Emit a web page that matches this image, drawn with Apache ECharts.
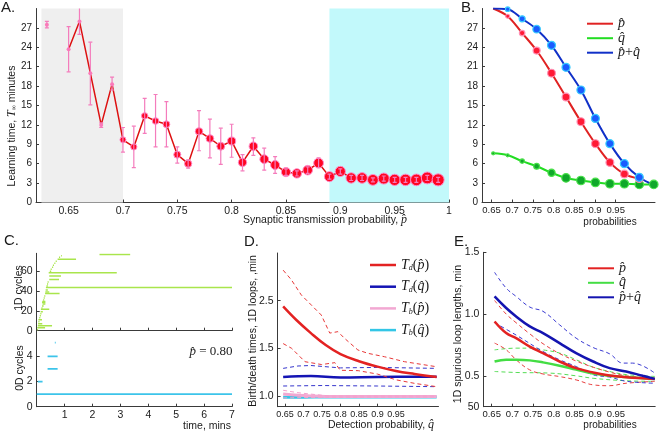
<!DOCTYPE html>
<html><head><meta charset="utf-8">
<script src="https://cdn.jsdelivr.net/npm/echarts@6/dist/echarts.min.js"></script>
<style>html,body{margin:0;padding:0;background:#fff}#c{width:660px;height:432px}</style>
</head><body><div id="c"></div>
<script>
// ---------- Panel A : learning time vs synaptic transmission probability ----------
const aX  = [0.63,0.64,0.65,0.66,0.67,0.68,0.69,0.70,0.71,0.72,0.73,0.74,0.75,0.76,0.77,0.78,0.79,0.80,0.81,0.82,0.83,0.84,0.85,0.86,0.87,0.88,0.89,0.90,0.91,0.92,0.93,0.94,0.95,0.96,0.97,0.98,0.99];
const aY  = [27.5,null,23.7,28.0,20.0,12.0,18.3,9.7,8.6,13.4,12.6,12.1,7.4,6.0,11.0,9.9,8.7,9.5,6.2,8.7,6.7,5.8,4.7,4.5,5.0,6.1,4.0,4.8,3.8,3.8,3.5,3.7,3.5,3.5,3.5,3.8,3.5];
const aLo = [27.0,null,20.2,26.0,15.1,11.6,17.4,7.8,5.4,10.7,8.6,8.6,6.1,5.3,8.0,6.9,5.9,7.0,4.9,7.3,5.0,4.5,4.2,4.1,4.5,5.4,3.6,4.4,3.4,3.4,3.2,3.3,3.1,3.1,3.1,3.4,3.1];
const aHi = [28.0,null,27.2,30.5,24.8,12.3,19.4,11.6,11.8,16.1,16.7,15.6,8.6,6.6,14.2,12.9,11.5,12.1,7.4,10.0,8.4,7.1,5.2,4.9,5.5,6.9,4.4,5.2,4.2,4.2,3.8,4.1,3.9,3.9,3.9,4.2,3.9];
const aGray = [0.625, 0.70];
const aCyan = [0.89, 1.00];
const aXTicks = [0.65,0.7,0.75,0.8,0.85,0.9,0.95,1];
const aYTicks = [0,3,6,9,12,15,18,21,24,27];

// ---------- Panel B ----------
const bX  = [0.654,0.689,0.724,0.759,0.795,0.830,0.866,0.901,0.936,0.971,1.007,1.042];
const bP  = [30.0,28.8,26.2,23.5,20.0,16.3,12.5,9.1,6.2,4.4,3.7,null];
const bQ  = [7.6,7.3,6.4,5.6,4.6,3.8,3.4,3.1,2.9,2.9,2.8,2.8];
const bPQ = [30.0,29.9,28.4,26.8,24.3,20.9,17.4,13.0,9.1,6.0,3.9,2.7];
const bXTicks = [0.65,0.7,0.75,0.8,0.85,0.9,0.95];

// ---------- Panel C : barcodes [birth, death, index] ----------
const c1D = [[0.01,0.05,1],[0.02,0.30,3],[0.04,0.55,5],[0.05,0.20,7],[0.06,0.10,9],[0.06,0.19,11],[0.09,0.13,13],[0.11,0.15,15],[0.13,0.17,17],[0.14,0.22,19],[0.15,0.45,21.5],[0.17,0.21,23],[0.19,0.25,25],[0.21,0.31,27],[0.19,0.31,28.5],[0.20,0.31,29.5],[0.23,0.27,31],[0.25,0.29,33],[0.27,0.31,35],[0.30,0.82,37.5],[0.31,0.45,39],[0.32,0.40,41],[0.33,7,43.5],[0.35,0.40,45],[0.37,0.41,47],[0.39,0.43,49],[0.45,0.80,51.7],[0.45,0.87,55],[0.43,2.87,58.3],[0.47,0.52,60],[0.50,0.54,62],[0.55,0.59,64],[0.58,0.62,66],[0.63,0.67,68],[0.68,0.72,70],[0.75,1.41,72],[0.80,0.84,74],[0.87,0.90,75.5],[2.25,3.35,76.8]];
const c0D = [[0,7,1],[0.04,0.21,2],[0.39,0.75,3],[0.39,0.75,4],[0.65,0.68,5.1]];
const cXTicks = [1,2,3,4,5,6,7];
const c1YTicks = [0,20,40,60];
const c0YTicks = [0,2,4];

// ---------- Panel D ----------
const dTdp   = [[0.645,1.94],[0.68,1.80],[0.72,1.66],[0.76,1.535],[0.80,1.44],[0.85,1.365],[0.90,1.308],[0.95,1.263],[1.00,1.232],[1.06,1.20]];
const dTdpHi = [[0.645,2.32],[0.667,2.22],[0.694,2.06],[0.721,1.955],[0.748,1.85],[0.771,1.66],[0.793,1.675],[0.811,1.605],[0.847,1.483],[0.874,1.448],[0.919,1.412],[0.973,1.36],[1.06,1.307]];
const dTdpLo = [[0.645,1.55],[0.668,1.50],[0.704,1.36],[0.749,1.33],[0.785,1.35],[0.799,1.27],[0.848,1.266],[0.90,1.23],[0.95,1.17],[1.00,1.133],[1.06,1.098]];
const dTdq   = [[0.645,1.20],[0.72,1.21],[0.80,1.195],[0.90,1.20],[1.06,1.203]];
const dTdqHi = [[0.645,1.29],[0.685,1.315],[0.72,1.32],[0.80,1.295],[0.90,1.30],[1.06,1.29]];
const dTdqLo = [[0.645,1.105],[0.75,1.11],[0.90,1.105],[1.06,1.098]];
const dTbp   = [[0.645,1.02],[0.685,1.007],[0.72,1.0],[0.76,0.996],[1.06,0.996]];
const dTbpHi = [[0.645,1.06],[0.685,1.035],[0.72,1.02],[0.77,1.0],[1.06,1.0]];
const dTbpLo = [[0.645,0.98],[0.72,0.985],[1.06,0.99]];
const dTbq   = [[0.645,0.988],[0.70,0.988],[0.76,0.99],[1.06,0.99]];
const dXTicks = [0.65,0.7,0.75,0.8,0.85,0.9,0.95];
const dYTicks = [1.0,1.5,2.0];
const dYTickLabels = ['1.0','1.5','2.5'];

// ---------- Panel E ----------
const eP    = [[0.657,0.94],[0.685,0.846],[0.709,0.805],[0.742,0.737],[0.774,0.684],[0.814,0.616],[0.854,0.562],[0.895,0.527],[0.935,0.502],[0.975,0.489],[1.044,0.475]];
const eQ    = [[0.657,0.616],[0.685,0.63],[0.709,0.63],[0.742,0.625],[0.774,0.609],[0.814,0.582],[0.854,0.55],[0.895,0.518],[0.935,0.50],[0.975,0.49],[1.044,0.475]];
const ePQ   = [[0.657,1.143],[0.685,1.049],[0.709,0.981],[0.742,0.90],[0.774,0.846],[0.814,0.765],[0.854,0.684],[0.895,0.616],[0.935,0.562],[0.975,0.535],[1.015,0.50],[1.044,0.475]];
const ePHi  = [[0.657,1.11],[0.685,1.0],[0.709,0.93],[0.742,0.84],[0.774,0.76],[0.814,0.68],[0.854,0.62],[0.895,0.57],[0.935,0.53],[0.975,0.50],[1.044,0.48]];
const ePLo  = [[0.657,0.765],[0.685,0.711],[0.709,0.63],[0.742,0.548],[0.774,0.515],[0.814,0.494],[0.854,0.467],[0.895,0.427],[0.935,0.42],[0.975,0.44],[1.044,0.455]];
const eQHi  = [[0.657,0.71],[0.709,0.724],[0.742,0.724],[0.774,0.71],[0.814,0.684],[0.854,0.63],[0.895,0.57],[0.935,0.535],[0.975,0.51],[1.044,0.495]];
const eQLo  = [[0.657,0.535],[0.709,0.527],[0.79,0.522],[0.854,0.50],[0.895,0.48],[0.975,0.46],[1.044,0.455]];
const ePQHi = [[0.657,1.338],[0.685,1.21],[0.709,1.143],[0.742,1.057],[0.774,1.022],[0.814,0.913],[0.854,0.805],[0.895,0.729],[0.935,0.678],[0.967,0.603],[0.99,0.603],[1.044,0.522]];
const ePQLo = [[0.657,0.93],[0.709,0.83],[0.774,0.697],[0.814,0.63],[0.854,0.575],[0.895,0.508],[0.935,0.49],[0.975,0.456],[1.044,0.44]];
const eXTicks = [0.65,0.7,0.75,0.8,0.85,0.9,0.95];
const eYTicks = [0.25,0.5,1.0,1.5];
const eYTickLabels = ['50','0.5','1.0','1.5'];

// ---------- styling ----------
const SANS = 'Liberation Sans, Arial, sans-serif';
const SERIF = 'Liberation Serif, DejaVu Serif, serif';
const AX = '#3a3a3a';
const TXT = '#1a1a1a';

function mkAxis(type, gi, min, max, ticks, fmt, show, fs) {
  return {
    type: 'value', gridIndex: gi, min: min, max: max,
    axisLine: {show: true, onZero: false, lineStyle: {color: AX, width: 1}},
    axisTick: {show: true, inside: true, length: 3, customValues: ticks, lineStyle: {color: AX}},
    axisLabel: {show: show !== false, customValues: ticks, formatter: fmt || (v => String(v)), hideOverlap: false,
      color: TXT, fontSize: fs || 10.5, fontFamily: SANS, margin: type === 'x' ? 3 : 4},
    splitLine: {show: false}
  };
}
function lab(ticks, labels) { return v => { const i = ticks.findIndex(t => Math.abs(t - v) < 1e-9); return i < 0 ? '' : labels[i]; }; }

const grids = [
  {left: 36, top: 8.5, width: 413, height: 194},
  {left: 482, top: 8.5, width: 173, height: 194},
  {left: 36.7, top: 253.3, width: 195.3, height: 77.4},
  {left: 36.7, top: 331.2, width: 195.3, height: 75.5},
  {left: 277.6, top: 253, width: 160.9, height: 153.7},
  {left: 483.4, top: 252.3, width: 171.8, height: 154.4}
].map(g => Object.assign({outerBoundsMode: 'none', containLabel: false}, g));

const xAxes = [
  mkAxis('x', 0, 0.62, 1.0, aXTicks),
  mkAxis('x', 1, 0.627, 1.045, bXTicks, null, true, 9.5),
  mkAxis('x', 2, 0, 7, cXTicks, null, false),
  mkAxis('x', 3, 0, 7, cXTicks),
  mkAxis('x', 4, 0.63, 1.065, dXTicks, null, true, 9),
  mkAxis('x', 5, 0.63, 1.045, eXTicks, null, true, 9.5)
];
const yAxes = [
  mkAxis('y', 0, 0, 30, aYTicks, null, true, 10),
  mkAxis('y', 1, 0, 30, aYTicks, null, true, 10),
  mkAxis('y', 2, 0, 78, c1YTicks),
  mkAxis('y', 3, 0, 6, c0YTicks),
  mkAxis('y', 4, 0.888, 2.5, dYTicks, lab(dYTicks, dYTickLabels)),
  mkAxis('y', 5, 0.25, 1.5, eYTicks, lab(eYTicks, eYTickLabels))
];

const series = [];
// A: shaded regions + connecting line
series.push({
  type: 'line', name: 'A-line', xAxisIndex: 0, yAxisIndex: 0, z: 2,
  data: aX.map((x, i) => [x, aY[i] == null ? null : aY[i]]),
  connectNulls: false, showSymbol: false, symbol: 'none',
  lineStyle: {color: '#dd1010', width: 1.5},
  markArea: {silent: true, label: {show: false},
    data: [
      [{xAxis: aGray[0], yAxis: 0, itemStyle: {color: '#efefef'}}, {xAxis: aGray[1], yAxis: 30}],
      [{xAxis: aCyan[0], yAxis: 0, itemStyle: {color: '#c2f9fb'}}, {xAxis: aCyan[1], yAxis: 30}]
    ]}
});
const aPts = aX.map((x, i) => [x, aY[i]]).filter(p => p[1] != null);
series.push({
  type: 'scatter', xAxisIndex: 0, yAxisIndex: 0, z: 3,
  data: aPts.filter(p => p[0] < 0.695), symbolSize: 4,
  itemStyle: {color: '#ff78b8', opacity: 1}
});
series.push({
  type: 'scatter', xAxisIndex: 0, yAxisIndex: 0, z: 3,
  data: aPts.filter(p => p[0] >= 0.695), symbolSize: v => 6 + (v[0] - 0.7) * 21,
  itemStyle: {color: '#ff0622', borderColor: '#ff8ccc', borderWidth: 1, opacity: 1}
});
series.push({
  type: 'custom', xAxisIndex: 0, yAxisIndex: 0, z: 4, clip: true,
  data: aX.map((x, i) => [x, aLo[i], aHi[i]]).filter(p => p[1] != null),
  encode: {x: 0, y: [1, 2]},
  renderItem: function (params, api) {
    const x = api.value(0);
    const p1 = api.coord([x, api.value(1)]), p2 = api.coord([x, api.value(2)]);
    const w = 2, st = {stroke: '#f47cbc', lineWidth: 1.2};
    return {type: 'group', children: [
      {type: 'line', shape: {x1: p1[0], y1: p1[1], x2: p2[0], y2: p2[1]}, style: st},
      {type: 'line', shape: {x1: p1[0] - w, y1: p1[1], x2: p1[0] + w, y2: p1[1]}, style: st},
      {type: 'line', shape: {x1: p2[0] - w, y1: p2[1], x2: p2[0] + w, y2: p2[1]}, style: st}
    ]};
  }
});

// B
const colB = {p: '#e02222', q: '#22dd22', pq: '#1030c8'};
function bSeries(name, vals, line, fill, border, sizeFn) {
  return {type: 'line', name: name, xAxisIndex: 1, yAxisIndex: 1, smooth: 0.35, color: line,
    data: bX.map((x, i) => [x, vals[i]]), connectNulls: false,
    symbol: 'circle', showSymbol: true, showAllSymbol: true, symbolSize: (v, p) => sizeFn(p.dataIndex),
    lineStyle: {color: line, width: 2}, itemStyle: {color: fill, borderColor: border, borderWidth: 1.2}};
}
series.push(bSeries('B-q', bQ, colB.q, '#10a82a', '#48e048', i => Math.min(3 + Math.max(0, i - 1) * 1.4, 8.5)));
series.push(bSeries('B-p', bP, colB.p, '#ff1a35', '#ff90b4', i => i === 0 ? 0 : Math.min(2.5 + i * 1.5, 7.8)));
series.push(bSeries('B-pq', bPQ, colB.pq, '#1a5cff', '#38ccff', i => (i === 0 || i === 11) ? 0 : Math.min(3 + i * 1.5, 8)));

// C barcodes
function barRender(color, width) {
  return function (params, api) {
    const y = api.value(2);
    const p1 = api.coord([api.value(0), y]), p2 = api.coord([api.value(1), y]);
    return {type: 'line', shape: {x1: p1[0], y1: p1[1], x2: p2[0], y2: p2[1]}, style: {stroke: color, lineWidth: width}};
  };
}
series.push({type: 'custom', xAxisIndex: 2, yAxisIndex: 2, clip: true, data: c1D, encode: {x: [0, 1], y: 2}, renderItem: barRender('#a9e54c', 1.5)});
series.push({type: 'custom', xAxisIndex: 3, yAxisIndex: 3, clip: true, data: c0D, encode: {x: [0, 1], y: 2}, renderItem: barRender('#3cc4ea', 1.8)});

// D
function ln(name, xi, data, color, width, dashed, smooth) {
  return {type: 'line', name: name, xAxisIndex: xi, yAxisIndex: xi, data: data, color: color, showSymbol: false, symbol: 'none',
    smooth: smooth ? 0.4 : false, lineStyle: {color: color, width: width, type: dashed ? [4, 3] : 'solid'}};
}
series.push(ln('D-Tbq', 4, dTbq, '#33c6e6', 3, false, true));
series.push(ln('D-Tbp', 4, dTbp, '#f2a8d2', 3, false, true));
series.push(ln('dh1', 4, dTbpHi, '#f4a0cc', 1, true, false));
series.push(ln('dh2', 4, dTbpLo, '#f4a0cc', 1, true, false));
series.push(ln('dh3', 4, dTdqHi, '#3636cc', 1, true, false));
series.push(ln('dh4', 4, dTdqLo, '#3636cc', 1, true, false));
series.push(ln('D-Tdq', 4, dTdq, '#1414b4', 2.5, false, true));
series.push(ln('dh5', 4, dTdpHi, '#e83838', 1, true, false));
series.push(ln('dh6', 4, dTdpLo, '#e83838', 1, true, false));
series.push(ln('D-Tdp', 4, dTdp, '#e32222', 2.5, false, true));

// E
series.push(ln('eh1', 5, eQHi, '#55dd55', 1, true, true));
series.push(ln('eh2', 5, eQLo, '#55dd55', 1, true, true));
series.push(ln('eh3', 5, ePHi, '#e84040', 1, true, true));
series.push(ln('eh4', 5, ePLo, '#e84040', 1, true, true));
series.push(ln('eh5', 5, ePQHi, '#3a3ad2', 1, true, true));
series.push(ln('eh6', 5, ePQLo, '#3a3ad2', 1, true, true));
series.push(ln('E-q', 5, eQ, '#44dd44', 2.5, false, true));
series.push(ln('E-p', 5, eP, '#e32222', 2.5, false, true));
series.push(ln('E-pq', 5, ePQ, '#1414b0', 2.5, false, true));

// legends
const hatP = 'p\u0302', hatQ = 'q\u0302';
const legendNames = {
  'B-p': '{i|' + hatP + '}', 'B-q': '{i|' + hatQ + '}', 'B-pq': '{i|' + hatP + '}{n|+}{i|' + hatQ + '}',
  'E-p': '{i|' + hatP + '}', 'E-q': '{i|' + hatQ + '}', 'E-pq': '{i|' + hatP + '}{n|+}{i|' + hatQ + '}',
  'D-Tdp': '{i|T}{s|d}{n|(}{i|' + hatP + '}{n|)}', 'D-Tdq': '{i|T}{s|d}{n|(}{i|' + hatQ + '}{n|)}',
  'D-Tbp': '{i|T}{s|b}{n|(}{i|' + hatP + '}{n|)}', 'D-Tbq': '{i|T}{s|b}{n|(}{i|' + hatQ + '}{n|)}'
};
function legendRich(lh) {
  return {
    i: {fontFamily: SERIF, fontStyle: 'italic', fontSize: 14, color: TXT, lineHeight: lh},
    n: {fontFamily: SERIF, fontSize: 14, color: TXT, lineHeight: lh},
    s: {fontFamily: SERIF, fontStyle: 'italic', fontSize: 8, color: TXT, lineHeight: lh, padding: [6, 0, 0, 0]}
  };
}
function mkLegend(data, left, top, gap, lh, ih) {
  return {data: data.map(d => ({name: d[0], itemStyle: {color: d[1], borderWidth: 0}})),
    orient: 'vertical', left: left, top: top, padding: 0, itemGap: gap, itemWidth: 26, itemHeight: ih,
    icon: 'rect', selectedMode: false, formatter: n => legendNames[n],
    textStyle: {fontSize: 14, lineHeight: lh, rich: legendRich(lh)}};
}
const legends = [
  mkLegend([['B-p', colB.p], ['B-q', colB.q], ['B-pq', colB.pq]], 587, 16.7, 0.5, 12, 2),
  mkLegend([['D-Tdp', '#e32222'], ['D-Tdq', '#1414b4'], ['D-Tbp', '#f2a8d2'], ['D-Tbq', '#33c6e6']], 370, 258, 7.7, 14, 2.5),
  mkLegend([['E-p', '#e32222'], ['E-q', '#44dd44'], ['E-pq', '#1414b0']], 588, 261.3, 0.5, 12, 2)
];

// texts
function t(x, y, text, o) {
  o = o || {};
  return {type: 'text', x: x, y: y, rotation: o.rot || 0, z: 50,
    style: {text: text, fill: TXT, font: (o.font || '10.5px ' + SANS), align: o.align || 'center', verticalAlign: 'middle', rich: o.rich}};
}
const R90 = Math.PI / 2;
const richSym = {
  i: {fontFamily: SERIF, fontStyle: 'italic', fontSize: 12, fill: TXT},
  s: {fontFamily: SERIF, fontStyle: 'italic', fontSize: 7, fill: TXT, padding: [5, 0, 0, 0]},
  n: {fontFamily: SANS, fontSize: 10.5, fill: TXT}
};
const graphic = [
  t(1, 8, 'A.', {align: 'left', font: '15px ' + SANS}),
  t(461, 8, 'B.', {align: 'left', font: '15px ' + SANS}),
  t(4, 241, 'C.', {align: 'left', font: '15px ' + SANS}),
  t(244, 242, 'D.', {align: 'left', font: '15px ' + SANS}),
  t(454, 242, 'E.', {align: 'left', font: '15px ' + SANS}),
  t(12, 126, '{n|Learning time, }{i|T}{s|\u221e}{n| minutes}', {rot: R90, rich: richSym}),
  t(325, 220, '{n|Synaptic transmission probability, }{i|' + hatP + '}', {rich: richSym}),
  t(610, 222, 'probabilities', {font: '10px ' + SANS}),
  t(19, 288, '1D cycles', {rot: R90}),
  t(20, 368, '0D cycles', {rot: R90}),
  t(207, 426, 'time, mins'),
  t(211, 352, '{i|' + hatP + '}{m| = 0.80}', {rich: {i: {fontFamily: SERIF, fontStyle: 'italic', fontSize: 13, fill: TXT}, m: {fontFamily: SERIF, fontSize: 13, fill: TXT}}}),
  t(253, 331, 'Birth/death times, 1D loops, ,min', {rot: R90}),
  t(381, 425, '{n|Detection probability, }{i|' + hatQ + '}', {rich: richSym}),
  t(610, 425, 'probabilities', {font: '10px ' + SANS}),
  t(458, 334, '1D spurious loop lengths, min', {rot: R90})
];

const chart = echarts.init(document.getElementById('c'), null, {renderer: 'canvas'});
chart.setOption({
  animation: false, backgroundColor: '#fff',
  grid: grids, xAxis: xAxes, yAxis: yAxes, series: series, legend: legends, graphic: graphic
});
</script></body></html>
